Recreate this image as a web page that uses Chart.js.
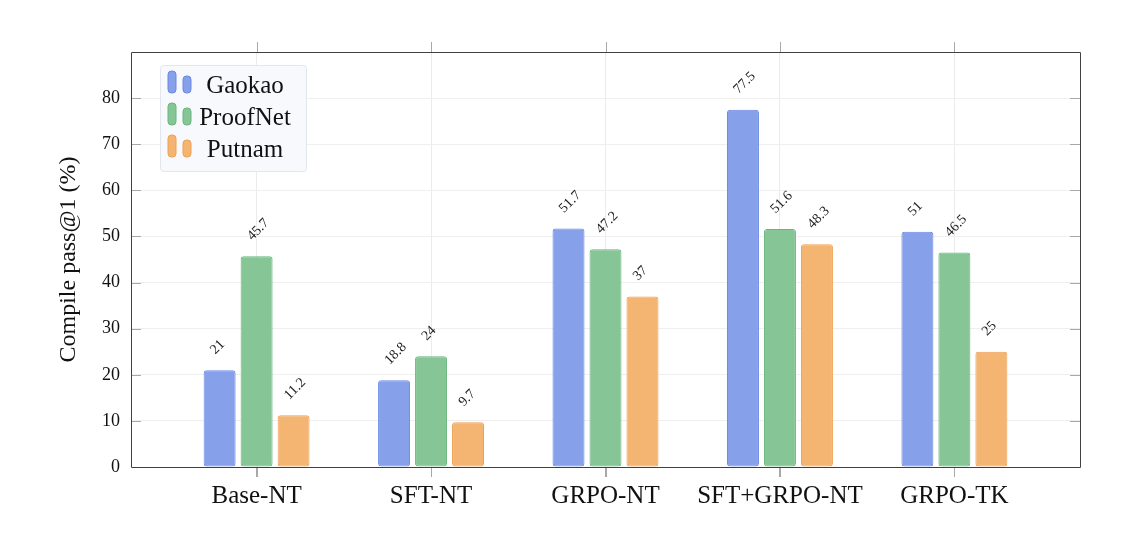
<!DOCTYPE html>
<html>
<head>
<meta charset="utf-8">
<script src="https://cdn.jsdelivr.net/npm/chart.js@4.4.1/dist/chart.umd.min.js"></script>
<style>
  html, body { margin: 0; padding: 0; background: #fff; }
  #wrap { width: 1136px; height: 534px; }
</style>
</head>
<body>
<div id="wrap"><canvas id="c" width="1136" height="534"></canvas></div>
<script>
const categories = ['Base-NT', 'SFT-NT', 'GRPO-NT', 'SFT+GRPO-NT', 'GRPO-TK'];
const gaokao   = [21, 18.8, 51.7, 77.5, 51];
const proofnet = [45.7, 24, 47.2, 51.6, 46.5];
const putnam   = [11.2, 9.7, 37, 48.3, 25];
const yTicks   = [0, 10, 20, 30, 40, 50, 60, 70, 80];
const seriesNames = ['Gaokao', 'ProofNet', 'Putnam'];

const fills   = ['#86a0ea', '#86c696', '#f4b573'];
const borders = ['#6a88e6', '#69b67c', '#f09f50'];
const SERIF = '"Liberation Serif", "DejaVu Serif", serif';

function pts(arr) { return arr.map((v, i) => ({ x: i, y: v })); }

const frameTicks = {
  id: 'frameTicks',
  afterDraw(chart) {
    const { ctx, chartArea: a, scales: { x, y } } = chart;
    ctx.save();
    ctx.lineWidth = 1;
    ctx.strokeStyle = '#a8a8a8';
    categories.forEach((c, i) => {
      const px = Math.round(x.getPixelForValue(i)) + 0.5;
      ctx.beginPath(); ctx.moveTo(px, a.top - 10); ctx.lineTo(px, a.top); ctx.stroke();
      ctx.beginPath(); ctx.moveTo(px, a.bottom); ctx.lineTo(px, a.bottom + 10); ctx.stroke();
    });
    yTicks.forEach(v => {
      if (v === 0) return;
      const py = Math.round(y.getPixelForValue(v)) + 0.5;
      ctx.beginPath(); ctx.moveTo(a.left, py); ctx.lineTo(a.left + 10, py); ctx.stroke();
      ctx.beginPath(); ctx.moveTo(a.right - 10, py); ctx.lineTo(a.right, py); ctx.stroke();
    });
    ctx.strokeStyle = '#404040';
    const L = Math.round(a.left) + 0.5, R = Math.round(a.right) + 0.5;
    const T = Math.round(a.top) + 0.5, B = Math.round(a.bottom) + 0.5;
    ctx.beginPath();
    ctx.moveTo(L, B); ctx.lineTo(L, T); ctx.lineTo(R, T); ctx.lineTo(R, B); ctx.lineTo(L, B);
    ctx.stroke();
    ctx.restore();
  }
};

const valueLabels = {
  id: 'valueLabels',
  afterDatasetsDraw(chart) {
    const { ctx } = chart;
    ctx.save();
    ctx.fillStyle = '#222';
    ctx.font = '14px ' + SERIF;
    ctx.textAlign = 'left';
    ctx.textBaseline = 'middle';
    chart.data.datasets.forEach((ds, di) => {
      const meta = chart.getDatasetMeta(di);
      meta.data.forEach((bar, i) => {
        const v = ds.data[i].y;
        ctx.save();
        ctx.translate(bar.x - 7, bar.y - 18);
        ctx.rotate(-Math.PI / 4);
        ctx.fillText(String(v), 0, 0);
        ctx.restore();
      });
    });
    ctx.restore();
  }
};

function roundRect(ctx, x, y, w, h, r) {
  ctx.beginPath();
  ctx.moveTo(x + r, y);
  ctx.lineTo(x + w - r, y); ctx.quadraticCurveTo(x + w, y, x + w, y + r);
  ctx.lineTo(x + w, y + h - r); ctx.quadraticCurveTo(x + w, y + h, x + w - r, y + h);
  ctx.lineTo(x + r, y + h); ctx.quadraticCurveTo(x, y + h, x, y + h - r);
  ctx.lineTo(x, y + r); ctx.quadraticCurveTo(x, y, x + r, y);
  ctx.closePath();
}

const boxLegend = {
  id: 'boxLegend',
  afterDraw(chart) {
    const { ctx } = chart;
    ctx.save();
    roundRect(ctx, 160.5, 65.5, 146, 106, 3);
    ctx.fillStyle = '#f7f9fc';
    ctx.fill();
    ctx.strokeStyle = '#e2e6ee';
    ctx.lineWidth = 1;
    ctx.stroke();
    ctx.font = '25px ' + SERIF;
    ctx.textAlign = 'center';
    ctx.textBaseline = 'middle';
    seriesNames.forEach((name, i) => {
      const cy = 86 + i * 32;
      ctx.fillStyle = fills[i];
      ctx.strokeStyle = borders[i];
      roundRect(ctx, 168, cy - 15, 8, 22, 3.5); ctx.fill(); ctx.stroke();
      roundRect(ctx, 183, cy - 10, 8, 17, 3.5); ctx.fill(); ctx.stroke();
      ctx.fillStyle = '#111';
      ctx.fillText(name, 245, cy);
    });
    ctx.restore();
  }
};

const datasets = [gaokao, proofnet, putnam].map((arr, i) => ({
  label: seriesNames[i],
  data: pts(arr),
  backgroundColor: fills[i],
  borderColor: borders[i],
  borderWidth: 1,
  borderRadius: 3,
  borderSkipped: false,
  categoryPercentage: 0.636,
  barPercentage: 0.865
}));

new Chart(document.getElementById('c'), {
  type: 'bar',
  data: { datasets },
  options: {
    responsive: false,
    animation: false,
    layout: { padding: { left: 54, right: 56, top: 52, bottom: 0 } },
    plugins: { legend: { display: false }, tooltip: { enabled: false } },
    scales: {
      x: {
        type: 'linear',
        offset: false,
        min: -0.72,
        max: 4.72,
        afterBuildTicks(scale) { scale.ticks = categories.map((c, i) => ({ value: i })); },
        afterFit(scale) { scale.height = 67; },
        ticks: {
          callback: (v) => categories[v],
          font: { family: SERIF, size: 25 },
          color: '#111',
          padding: 4,
          maxRotation: 0,
          autoSkip: false
        },
        grid: { offset: false, color: '#ebebeb', tickColor: '#a8a8a8', tickLength: 10, drawTicks: true },
        border: { display: false }
      },
      y: {
        min: 0,
        max: 90,
        afterBuildTicks(scale) { scale.ticks = yTicks.map(v => ({ value: v })); },
        afterFit(scale) { scale.width = 77; },
        ticks: {
          font: { family: SERIF, size: 18 },
          color: '#111',
          padding: 11
        },
        grid: { color: '#efefef', drawTicks: false },
        border: { display: false },
        title: {
          display: true,
          text: 'Compile pass@1 (%)',
          font: { family: SERIF, size: 24 },
          color: '#111',
          padding: 0
        }
      }
    }
  },
  plugins: [frameTicks, valueLabels, boxLegend]
});
</script>
</body>
</html>
